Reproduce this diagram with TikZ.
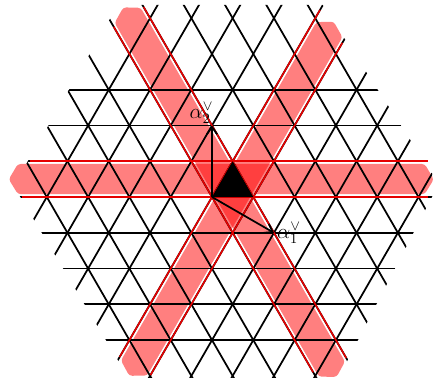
\documentclass[tikz,border=0pt]{standalone}
\usepackage{amsmath,amssymb}
\usepackage{tikz}
\usetikzlibrary{arrows.meta,positioning,calc}

% one red strip: rotation about the centroid of the black triangle, start, end
\newcommand{\redband}[3]{%
  \begin{scope}[rotate around={#1:(0.5,0.2887)}]
    \fill[bandfill] (#2+0.22,0.07) -- (#2,0.43) -- (#2+0.22,0.80) -- (#3-0.22,0.80) -- (#3,0.43) -- (#3-0.22,0.07) -- cycle;
  \end{scope}}
% the two red borders of a strip
\newcommand{\bandborders}[5]{%
  \begin{scope}[rotate around={#1:(0.5,0.2887)}]
    \draw[bandedge] (#2,0.866) -- (#3,0.866);
    \draw[bandedge] (#4,0) -- (#5,0);
  \end{scope}}

\begin{document}
\begin{tikzpicture}[>={Straight Barb[length=5pt,width=7pt]},
  lattice/.style={line width=1.2pt},
  bandfill/.style={fill=red, fill opacity=0.5, rounded corners=2pt},
  bandedge/.style={draw=red!90!black, line width=1.1pt}]
\useasboundingbox (-5.133,-4.407) rectangle (5.375,4.770);

% strips
\redband{0}{-4.92}{5.37}
\redband{120}{-4.78}{5.55}
\redband{240}{-4.15}{5.75}

% triangular lattice
\begin{scope}
\clip (-2.277,4.65) -- (2.68,4.65) -- (5.49,0.32) -- (3.06,-4.38) -- (-2.02,-4.38) -- (-4.803,0.272) -- cycle;
\foreach \k in {-4,...,3} \draw[lattice] (-6,\k*0.866) -- (6,\k*0.866);
\foreach \n in {-8,...,8} {
  \draw[lattice] (\n-2.887,-5) -- (\n+2.887,5);
  \draw[lattice] (\n+2.887,-5) -- (\n-2.887,5);
}
\end{scope}

% red borders
\bandborders{0}{-4.41}{5.23}{-4.60}{5.23}
\bandborders{120}{-4.40}{5.26}{-4.50}{5.31}
\bandborders{240}{-3.81}{5.48}{-4.23}{5.47}

\coordinate (O) at (0,0);
\coordinate (a1) at (1.5,-0.866);
\coordinate (a2) at (0,1.732);

% alcove
\fill (O) -- (1,0) -- (0.5,0.866) -- cycle;

% coroots
\draw[->,lattice] (O) -- (a1);
\draw[->,lattice] (O) -- (a2);
\node[right=1pt of a1,font=\Large,inner sep=1pt] (lab1) {$\alpha_1^\vee$};
\node[anchor=south east,font=\Large,inner sep=1pt] (lab2) at ([xshift=2pt]a2) {$\alpha_2^\vee$};
\end{tikzpicture}
\end{document}
